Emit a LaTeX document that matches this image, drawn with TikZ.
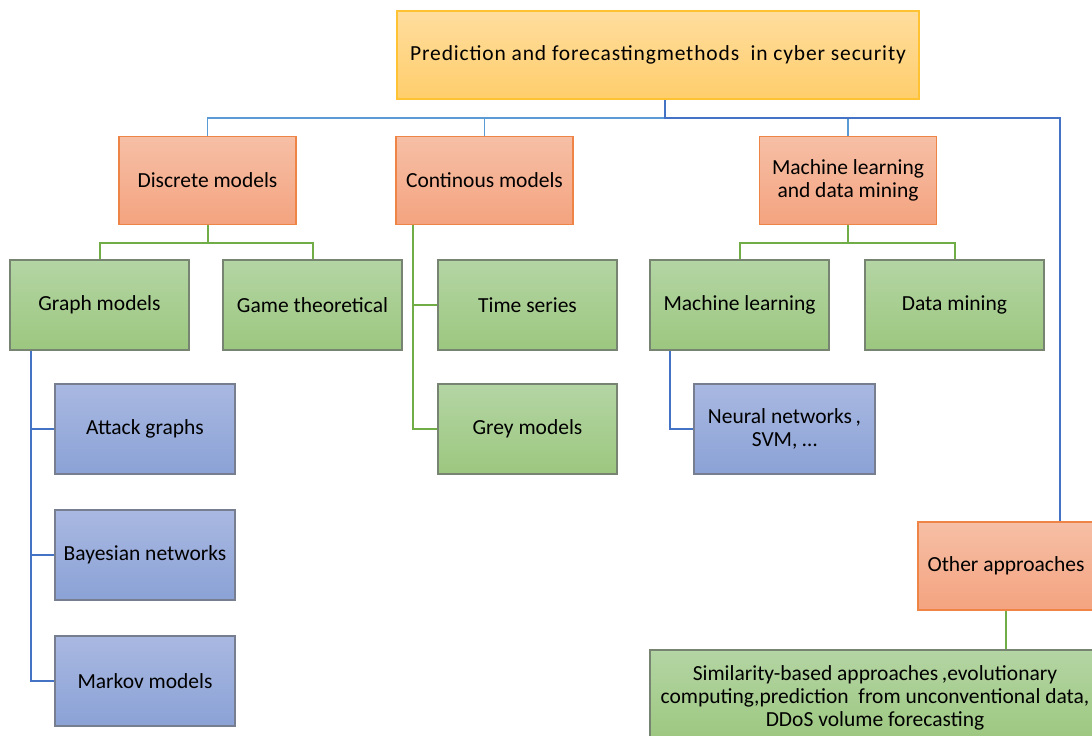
\documentclass[tikz,border=0pt]{standalone}
\usepackage{fontspec}
\setmainfont{Carlito}
\begin{document}
\definecolor{yelT}{HTML}{FFDD9E}
\definecolor{yelB}{HTML}{FFCE6C}
\definecolor{yelD}{HTML}{FFC233}
\definecolor{orT}{HTML}{F6BFA6}
\definecolor{orB}{HTML}{F4A37F}
\definecolor{orD}{HTML}{EE8446}
\definecolor{grT}{HTML}{B4D5A4}
\definecolor{grB}{HTML}{9CC77F}
\definecolor{grD}{HTML}{778472}
\definecolor{blT}{HTML}{A9B8E1}
\definecolor{blB}{HTML}{8BA2D6}
\definecolor{blD}{HTML}{767E90}
\definecolor{lnBL}{HTML}{5B9BD5}
\definecolor{lnBD}{HTML}{4472C4}
\definecolor{lnG}{HTML}{70AD47}
\begin{tikzpicture}[x=1pt,y=-1pt,
  every node/.style={font=\fontsize{21.5}{23}\selectfont, text=black, align=center, inner sep=0pt},
  yelbox/.style={top color=yelT, bottom color=yelB, draw=yelD, line width=1.2pt},
  orbox/.style={top color=orT, bottom color=orB, draw=orD, line width=1.2pt},
  grbox/.style={top color=grT, bottom color=grB, draw=grD, line width=1.6pt},
  blbox/.style={top color=blT, bottom color=blB, draw=blD, line width=1.6pt},
  wbig/.style={minimum width=177pt, minimum height=88pt},
  wsmall/.style={minimum width=179pt, minimum height=90pt},
  linkL/.style={draw=lnBL, line width=1.6pt},
  linkD/.style={draw=lnBD, line width=2pt},
  linkG/.style={draw=lnG, line width=2pt}]
\useasboundingbox (0,0) rectangle (1092,736);
\clip (0,0) rectangle (1092,736);

% root
\node[yelbox, minimum width=522pt, minimum height=88pt,
  font=\fontsize{21.5}{23}\selectfont\addfontfeatures{LetterSpace=4}] (root) at (658,55)
  {Prediction and forecastingmethods\ \ in cyber security};

% first level
\node[orbox, wbig] (disc) at (207.5,180.5) {Discrete models};
\node[orbox, wbig] (cont) at (484.5,180.5) {Continous models};
\node[orbox, wbig] (mldm) at (848,180.5) {Machine learning\\and data mining};
\node[orbox, minimum width=176pt, minimum height=88pt] (other) at (1006,566) {Other approaches};

% second level
\node[grbox, wsmall] (graph) at (99.5,305) {Graph models};
\node[grbox, wsmall] (game) at (312.5,305) {Game theoretical};
\node[grbox, wsmall] (time) at (527.5,305) {Time series};
\node[grbox, wsmall] (grey) at (527.5,429) {Grey models};
\node[grbox, wsmall] (ml) at (739.5,305) {Machine learning};
\node[grbox, wsmall] (dm) at (954.5,305) {Data mining};
\node[grbox, minimum width=450pt, minimum height=92pt, text depth=0pt] (sim) at (875,696)
  {Similarity-based approaches\,,evolutionary\\computing,prediction\ \ from unconventional data,\\DDoS volume forecasting};

% third level
\node[blbox, minimum width=180pt, minimum height=90pt] (attack) at (145,429) {Attack graphs};
\node[blbox, minimum width=180pt, minimum height=90pt] (bayes) at (145,555) {Bayesian networks};
\node[blbox, minimum width=180pt, minimum height=90pt] (markov) at (145,681) {Markov models};
\node[blbox, minimum width=181pt, minimum height=90pt] (nn) at (784.5,429) {Neural networks\,,\\SVM, \dots};

% connector helpers
\coordinate (stem) at (665,100);
\coordinate (busL) at (207.5,118);
\coordinate (busR) at (1060,118);
\coordinate (gx) at (31,0);
\coordinate (cx) at (413,0);
\coordinate (mx) at (670,0);

% root bus
\draw[linkL] (stem) |- (busL) -- (disc.north);
\draw[linkL] (busL -| cont.north) -- (cont.north);
\draw[linkL] (busL -| mldm.north) -- (mldm.north);
\draw[linkD] (stem) |- (busR) -- (busR |- other.north);

% discrete models
\draw[linkG] (disc.south) -- ++(0,18) coordinate (dbus) -| (graph.north);
\draw[linkG] (dbus) -| (game.north);

% machine learning and data mining
\draw[linkG] (mldm.south) -- ++(0,18) coordinate (mbus) -| (ml.north);
\draw[linkG] (mbus) -| (dm.north);

% continous models
\draw[linkG] (cx |- cont.south) |- (grey.west);
\draw[linkG] (cx |- time.west) -- (time.west);

% graph models
\draw[linkD] (gx |- graph.south) |- (markov.west);
\draw[linkD] (gx |- attack.west) -- (attack.west);
\draw[linkD] (gx |- bayes.west) -- (bayes.west);

% machine learning
\draw[linkD] (mx |- ml.south) |- (nn.west);

% other approaches
\draw[linkG] (other.south) -- (other.south |- sim.north);
\end{tikzpicture}
\end{document}
